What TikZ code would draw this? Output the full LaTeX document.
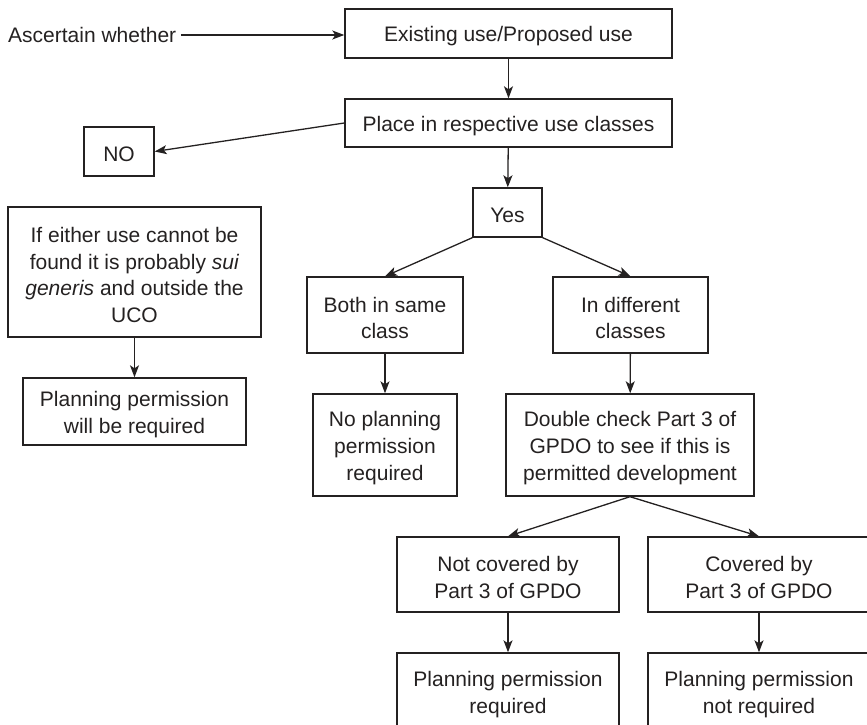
\documentclass[tikz,border=0pt]{standalone}
\usepackage{fontspec}
\setmainfont{Liberation Sans}
\usetikzlibrary{arrows.meta}
\definecolor{ink}{rgb}{0.14,0.13,0.13}
% tall invisible strut that lowers the text a little inside its box
\newcommand{\lowstrut}{\rule{0pt}{21pt}}
\begin{document}
\begin{tikzpicture}[x=1pt,y=-1pt,
  box/.style={draw=ink, line width=1.4pt, text=ink, align=center, inner sep=0pt,
    font=\fontsize{21}{26.7}\selectfont},
  flow/.style={draw=ink, line width=1.3pt, -{Stealth[length=12pt,width=9pt,inset=3pt]}}]
\useasboundingbox (0,0) rectangle (867,725);
\clip (0,0) rectangle (867,725);

% top of the chart
\node[box, minimum width=327pt, minimum height=49pt] (exist) at (508.5,33.5) {\lowstrut Existing use/Proposed use};
\node[box, minimum width=327pt, minimum height=48pt] (place) at (508.5,123) {\lowstrut Place in respective use classes};
\node[text=ink, font=\fontsize{21}{26.7}\selectfont, anchor=west, inner sep=4.5pt] (ascert) at (3.5,35) {Ascertain whether};
\node[box, minimum width=70pt, minimum height=49pt] (no) at (119,151.5) {\lowstrut NO};
\node[box, minimum width=69pt, minimum height=49pt] (yes) at (507.5,212.5) {\lowstrut Yes};

% left column
\node[box, minimum width=253pt, minimum height=130pt] (sui) at (134.5,272)
  {\lowstrut If either use cannot be\\found it is probably \textit{sui}\\\textit{generis} and outside the\\UCO};
\node[box, minimum width=223pt, minimum height=67pt] (ppwill) at (134.5,411.5)
  {\lowstrut Planning permission\\will be required};

% same class / different classes
\node[box, minimum width=156pt, minimum height=76pt] (both) at (385,315) {\lowstrut Both in same\\class};
\node[box, minimum width=155pt, minimum height=76pt] (diff) at (630.5,315) {\lowstrut In different\\classes};
\node[box, minimum width=144pt, minimum height=102pt] (nopp) at (385,445)
  {\lowstrut No planning\\permission\\required};
\node[box, minimum width=248pt, minimum height=102pt] (dbl) at (630,445)
  {\lowstrut Double check Part 3 of\\GPDO to see if this is\\permitted development};

% GPDO outcome
\node[box, minimum width=222pt, minimum height=75pt] (notcov) at (508,574.5) {\lowstrut Not covered by\\Part 3 of GPDO};
\node[box, minimum width=222pt, minimum height=75pt] (cov) at (759,574.5) {\lowstrut Covered by\\Part 3 of GPDO};
\node[box, minimum width=222pt, minimum height=77pt] (ppreq) at (508,691.5) {\lowstrut Planning permission\\required};
\node[box, minimum width=222pt, minimum height=77pt] (ppnot) at (759,691.5) {\lowstrut Planning permission\\not required};

% connectors
\draw[flow] (ascert.east) -- (exist.west |- ascert.east);
\draw[flow] (exist) -- (place);
\draw[flow] (place.west) -- (no.east);
\draw[flow] (place) -- (yes);
\draw[flow] (yes.south west) -- (both.north);
\draw[flow] (yes.south east) -- (diff.north);
\draw[flow] (sui) -- (ppwill);
\draw[flow] (both) -- (nopp);
\draw[flow] (diff) -- (dbl);
\draw[flow] (dbl.south) -- (notcov.north);
\draw[flow] (dbl.south) -- (cov.north);
\draw[flow] (notcov) -- (ppreq);
\draw[flow] (cov) -- (ppnot);
\end{tikzpicture}
\end{document}
